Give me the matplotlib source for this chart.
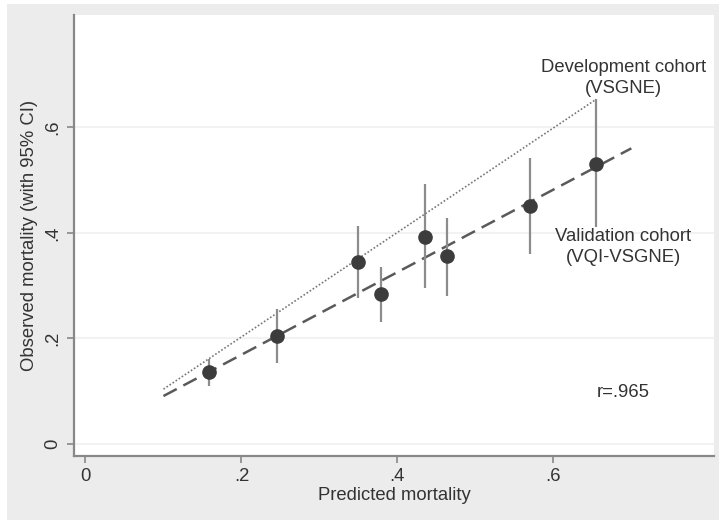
import numpy as np
import matplotlib.pyplot as plt
from matplotlib.patches import Rectangle

# deciles: predicted vs observed mortality with 95% CI
predicted = [0.159, 0.245, 0.350, 0.379, 0.435, 0.464, 0.570, 0.655]
observed = [0.137, 0.205, 0.344, 0.285, 0.393, 0.356, 0.451, 0.530]
ci_low = [0.110, 0.154, 0.276, 0.232, 0.295, 0.281, 0.360, 0.412]
ci_high = [0.162, 0.256, 0.413, 0.336, 0.492, 0.429, 0.542, 0.653]

# fitted lines
dev_x = [0.10, 0.655]
dev_y = [0.104, 0.653]
val_x = [0.10, 0.70]
val_y = [0.091, 0.560]

xticks = [0, 0.2, 0.4, 0.6]
xticklabels = ["0", ".2", ".4", ".6"]
yticks = [0, 0.2, 0.4, 0.6]
yticklabels = ["0", ".2", ".4", ".6"]

plt.rcParams['font.family'] = ['Liberation Sans', 'DejaVu Sans']

fig = plt.figure(figsize=(7.19, 5.2), dpi=100)
fig.patch.set_facecolor('white')
bg = Rectangle((7 / 719, 0), 1, (520 - 4) / 520, transform=fig.transFigure,
               facecolor='#ececec', edgecolor='none', zorder=-10)
fig.add_artist(bg)

ax = fig.add_axes([74 / 719, (520 - 455.7) / 520, 640 / 719, 440.7 / 520])
ax.set_zorder(1)
ax.set_facecolor('white')

for y in yticks:
    ax.axhline(y, color='#f2f2f2', lw=1.5, zorder=0)

ax.plot(dev_x, dev_y, color='#777777', lw=1.2, ls=(0, (1, 1.2)), zorder=2)
ax.plot(val_x, val_y, color='#5a5a5a', lw=1.8, ls=(0, (6, 3)), zorder=2)

lo = np.array(observed) - np.array(ci_low)
hi = np.array(ci_high) - np.array(observed)
ax.errorbar(predicted, observed, yerr=[lo, hi], fmt='none', ecolor='#8c8c8c', elinewidth=1.6, capsize=0, zorder=3)
ax.plot(predicted, observed, 'o', color='#3c3c3c', markersize=9.5, zorder=4)

ax.text(0.690, 0.693, "Development cohort\n(VSGNE)", ha='center', va='center', fontsize=13.3,
        color='#333333', linespacing=1.3)
ax.text(0.690, 0.374, "Validation cohort\n(VQI-VSGNE)", ha='center', va='center', fontsize=13.3,
        color='#333333', linespacing=1.3)
ax.text(0.690, 0.098, "r=.965", ha='center', va='center', fontsize=13.3, color='#333333')

ax.set_xlim(-0.0147, 0.806)
ax.set_ylim(-0.022, 0.8125)
ax.set_xticks(xticks)
ax.set_xticklabels(xticklabels)
ax.set_yticks(yticks)
ax.set_yticklabels(yticklabels, rotation=90, va='center')
ax.tick_params(colors='#333333', labelsize=13.3, length=5, width=1.2, pad=4)
ax.tick_params(axis='both', color='#888888')

for s in ['top', 'right']:
    ax.spines[s].set_visible(False)
for s in ['left', 'bottom']:
    ax.spines[s].set_color('#888888')
    ax.spines[s].set_linewidth(1.6)

ax.set_xlabel("Predicted mortality", fontsize=13.3, color='#333333', labelpad=1)
ax.set_ylabel("Observed mortality (with 95% CI)", fontsize=13.3, color='#333333', labelpad=5)

fig.savefig("out.png", dpi=100)
